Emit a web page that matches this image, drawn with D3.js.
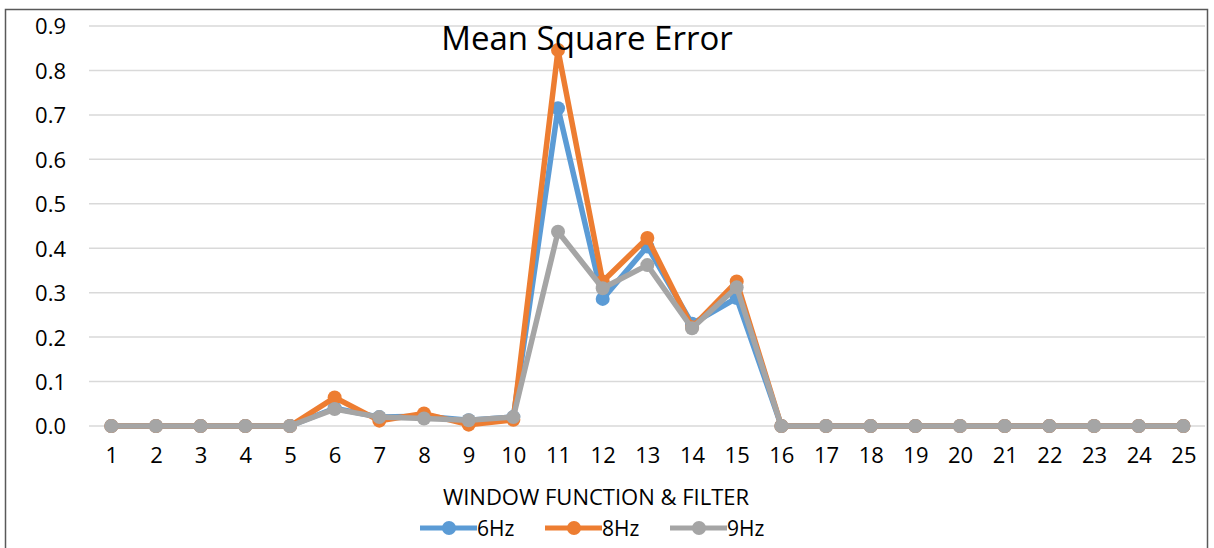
<!DOCTYPE html>
<html>
<head>
<meta charset="utf-8">
<script src="https://cdn.jsdelivr.net/npm/d3@7"></script>
<style>
  body { margin: 0; background: #fff; }
  text { font-family: "Open Sans", "Noto Sans", sans-serif; fill: #000; }
</style>
</head>
<body>
<script>
// categories and series
var categories = d3.range(1, 26).map(String);
var hz6 = [0,0,0,0,0,0.04,0.02,0.022,0.013,0.02,0.715,0.286,0.404,0.23,0.288,0,0,0,0,0,0,0,0,0,0];
var hz8 = [0,0,0,0,0,0.064,0.012,0.028,0.003,0.014,0.846,0.325,0.423,0.222,0.325,0,0,0,0,0,0,0,0,0,0];
var hz9 = [0,0,0,0,0,0.038,0.02,0.017,0.013,0.02,0.437,0.31,0.362,0.22,0.312,0,0,0,0,0,0,0,0,0,0];
var yTicks = [0,0.1,0.2,0.3,0.4,0.5,0.6,0.7,0.8,0.9];
var seriesNames = ["6Hz","8Hz","9Hz"];
var colors = ["#5B9BD5","#ED7D31","#A5A5A5"];

var W = 1214, H = 548;
var svg = d3.select("body").append("svg")
    .attr("width", W).attr("height", H);

// outer frame
svg.append("rect")
    .attr("x", 5.5).attr("y", 9.5)
    .attr("width", 1202).attr("height", 545)
    .attr("fill", "none").attr("stroke", "#595959").attr("stroke-width", 1.5);

var x = d3.scalePoint().domain(categories).range([111.3, 1183.4]);
var y = d3.scaleLinear().domain([0, 0.9]).range([426, 26]);

// gridlines
svg.append("g").selectAll("line").data(yTicks).enter().append("line")
    .attr("x1", 89).attr("x2", 1205)
    .attr("y1", function(d){ return y(d); })
    .attr("y2", function(d){ return y(d); })
    .attr("stroke", "#D9D9D9").attr("stroke-width", 1.5);

// y axis labels
var yAxis = d3.axisLeft(y).tickValues(yTicks).tickFormat(d3.format(".1f")).tickSize(0).tickPadding(0);
var gy = svg.append("g").attr("transform", "translate(66,0)").call(yAxis);
gy.select(".domain").remove();
gy.selectAll("text").style("font-size", "22px").attr("dy", "0.36em");

// x axis labels
var xAxis = d3.axisBottom(x).tickSize(0).tickPadding(0);
var gx = svg.append("g").attr("transform", "translate(0,463)").call(xAxis);
gx.select(".domain").remove();
gx.selectAll("text").style("font-size", "22px").attr("dy", "0");

// series
var line = d3.line()
    .x(function(d, i){ return x(categories[i]); })
    .y(function(d){ return y(d); });

[hz6, hz8, hz9].forEach(function(s, k) {
  var g = svg.append("g");
  g.append("path").attr("d", line(s))
      .attr("fill", "none").attr("stroke", colors[k])
      .attr("stroke-width", 5.5).attr("stroke-linejoin", "round");
  g.selectAll("circle").data(s).enter().append("circle")
      .attr("cx", function(d, i){ return x(categories[i]); })
      .attr("cy", function(d){ return y(d); })
      .attr("r", 7).attr("fill", colors[k]);
});

// title
svg.append("text").attr("x", 587).attr("y", 50)
    .attr("text-anchor", "middle").style("font-size", "33px")
    .text("Mean Square Error");

// x axis title
svg.append("text").attr("x", 596).attr("y", 505)
    .attr("text-anchor", "middle").style("font-size", "22px")
    .text("WINDOW FUNCTION & FILTER");

// legend
var legendX = [420, 545, 670];
var lg = svg.append("g").selectAll("g").data(seriesNames).enter().append("g")
    .attr("transform", function(d, i){ return "translate(" + legendX[i] + ",528)"; });
lg.append("line").attr("x1", 0).attr("x2", 57).attr("y1", 0).attr("y2", 0)
    .attr("stroke", function(d, i){ return colors[i]; }).attr("stroke-width", 5);
lg.append("circle").attr("cx", 29).attr("cy", 0).attr("r", 7)
    .attr("fill", function(d, i){ return colors[i]; });
lg.append("text").attr("x", 57).attr("y", 0).attr("dy", "0.4em")
    .style("font-size", "21px").text(function(d){ return d; });
</script>
</body>
</html>
